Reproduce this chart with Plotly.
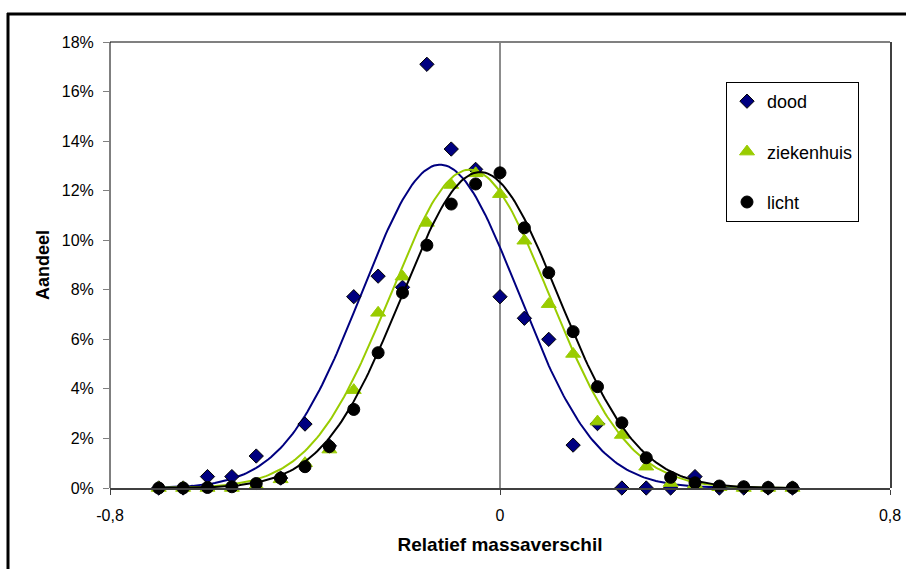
import numpy as np
import plotly.graph_objects as go

# ---- data ----
x_vals = [-0.70, -0.65, -0.60, -0.55, -0.50, -0.45, -0.40, -0.35, -0.30, -0.25,
          -0.20, -0.15, -0.10, -0.05, 0.00, 0.05, 0.10, 0.15, 0.20, 0.25,
          0.30, 0.35, 0.40, 0.45, 0.50, 0.55, 0.60]

dood = [0.0, 0.0, 0.46, 0.46, 1.29, 0.40, 2.58, 1.70, 7.72, 8.55,
        8.10, 17.10, 13.68, 12.86, 7.72, 6.85, 6.00, 1.73, 2.60, 0.0,
        0.0, 0.0, 0.46, 0.0, 0.0, 0.0, 0.0]

ziekenhuis = [0.0, 0.0, 0.0, 0.0, 0.10, 0.35, 1.00, 1.55, 3.95, 7.07,
              8.53, 10.70, 12.23, 12.70, 11.86, 9.98, 7.42, 5.41, 2.68, 2.14,
              0.86, 0.20, 0.15, 0.03, 0.0, 0.0, 0.0]

licht = [0.0, 0.0, 0.02, 0.05, 0.18, 0.40, 0.86, 1.67, 3.17, 5.46,
         7.88, 9.80, 11.46, 12.27, 12.72, 10.50, 8.69, 6.31, 4.09, 2.63,
         1.22, 0.43, 0.21, 0.08, 0.05, 0.02, 0.01]

# fitted normal curves (peak %, mean, sd)
fit_names = ["dood", "ziekenhuis", "licht"]
fit_peak = [13.05, 12.85, 12.75]
fit_mean = [-0.123, -0.062, -0.041]
fit_sd = [0.160, 0.163, 0.161]
fit_range = [-0.70, 0.60]

y_ticks = [0, 0.02, 0.04, 0.06, 0.08, 0.10, 0.12, 0.14, 0.16, 0.18]
y_ticktext = ["0%", "2%", "4%", "6%", "8%", "10%", "12%", "14%", "16%", "18%"]
x_ticks = [-0.8, 0, 0.8]
x_ticktext = ["-0,8", "0", "0,8"]

colors = {"dood": "#000080", "ziekenhuis": "#99CC00", "licht": "#000000"}
series = {"dood": dood, "ziekenhuis": ziekenhuis, "licht": licht}
symbols = {"dood": "diamond", "ziekenhuis": "triangle-up", "licht": "circle"}
sizes = {"dood": 11, "ziekenhuis": 13, "licht": 12}

FONT = "Liberation Sans, Arial, sans-serif"

fig = go.Figure()

xc = np.linspace(fit_range[0], fit_range[1], 261)
for i, name in enumerate(fit_names):
    yc = fit_peak[i] * np.exp(-0.5 * ((xc - fit_mean[i]) / fit_sd[i]) ** 2) / 100.0
    fig.add_trace(go.Scatter(x=xc, y=yc, mode="lines",
                             line=dict(color=colors[name], width=2),
                             showlegend=False, hoverinfo="skip"))
    ys = [v / 100.0 for v in series[name]]
    fig.add_trace(go.Scatter(
        x=x_vals, y=ys, mode="markers", name=name, legendgroup=name,
        marker=dict(symbol=symbols[name], size=sizes[name], color=colors[name],
                    line=dict(color="#000000" if name != "ziekenhuis" else colors[name], width=1)),
        cliponaxis=False))

L, T, R, B = 110, 42, 890, 488
W, H = 906, 569
pw, ph = R - L, B - T

def px_x(p):
    return (p - L) / pw

def px_y(p):
    return (B - p) / ph

shapes = [
    # outer chart frame (top & left visible)
    dict(type="line", xref="paper", yref="paper", x0=px_x(7), x1=px_x(912),
         y0=px_y(14), y1=px_y(14), line=dict(color="#000000", width=3)),
    dict(type="line", xref="paper", yref="paper", x0=px_x(8), x1=px_x(8),
         y0=px_y(13), y1=px_y(580), line=dict(color="#000000", width=3)),
    # plot area border
    dict(type="line", xref="paper", yref="paper", x0=0, x1=1, y0=1, y1=1,
         line=dict(color="#808080", width=2)),
    dict(type="line", xref="paper", yref="paper", x0=px_x(891), x1=px_x(891), y0=0, y1=1,
         line=dict(color="#000000", width=1.5)),
    dict(type="line", xref="paper", yref="paper", x0=0, x1=0, y0=0, y1=1,
         line=dict(color="#000000", width=1)),
    # vertical line at 0
    dict(type="line", xref="x", yref="paper", x0=0, x1=0, y0=0, y1=1,
         line=dict(color="#1a1a1a", width=1), layer="below"),
]

fig.update_layout(
    width=W, height=H,
    margin=dict(l=L, r=W - R, t=T, b=H - B, pad=0, autoexpand=False),
    paper_bgcolor="white", plot_bgcolor="white",
    font=dict(family=FONT, size=16, color="#000000"),
    shapes=shapes,
    showlegend=True,
    legend=dict(x=px_x(726), y=px_y(82), xanchor="left", yanchor="top",
                bordercolor="#000000", borderwidth=1, bgcolor="white",
                font=dict(family=FONT, size=18),
                tracegroupgap=24, itemwidth=30,
                traceorder="grouped"),
    xaxis=dict(range=[-0.8, 0.8], tickvals=x_ticks, ticktext=x_ticktext,
               ticks="outside", ticklen=5, tickcolor="#404040", tickwidth=1,
               showline=True, linecolor="#404040", linewidth=2,
               showgrid=False, zeroline=False, automargin=False,
               ticklabelstandoff=7,
               tickfont=dict(size=16),
               title=dict(text="<b>Relatief massaverschil</b>", font=dict(size=19), standoff=14)),
    yaxis=dict(range=[0, 0.18], tickvals=y_ticks, ticktext=y_ticktext,
               ticks="outside", ticklen=6, tickcolor="#808080", tickwidth=1,
               showline=False, showgrid=False, zeroline=False, automargin=False,
               ticklabelstandoff=6,
               tickfont=dict(size=16),
               title=dict(text="<b>Aandeel</b>", font=dict(size=18), standoff=7)),
)

fig.write_html("out.html")
